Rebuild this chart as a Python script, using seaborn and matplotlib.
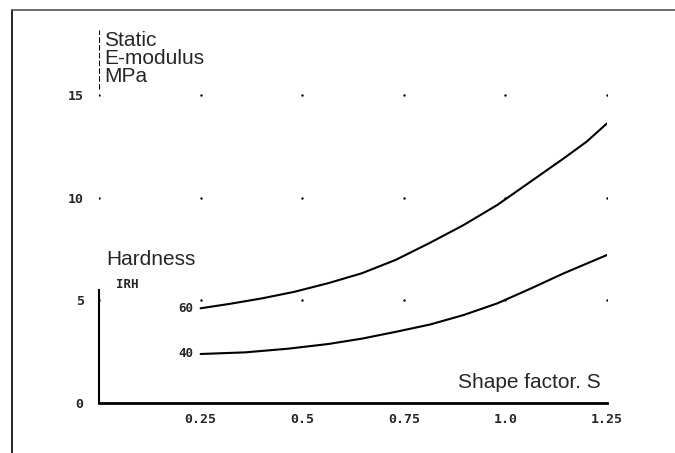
import numpy as np
import pandas as pd
import matplotlib
matplotlib.use("Agg")
import matplotlib.pyplot as plt
from matplotlib.lines import Line2D
import seaborn as sns

# shape factor S vs static E-modulus (MPa)
s_60 = [0.25, 0.32, 0.40, 0.48, 0.565, 0.647, 0.73, 0.813, 0.897, 0.98,
        1.062, 1.144, 1.20, 1.25]
e_60 = [4.62, 4.83, 5.1, 5.42, 5.85, 6.33, 6.98, 7.8, 8.68, 9.66,
        10.8, 11.94, 12.75, 13.64]
s_40 = [0.25, 0.36, 0.466, 0.565, 0.647, 0.73, 0.815, 0.897, 0.98,
        1.062, 1.144, 1.25]
e_40 = [2.39, 2.47, 2.65, 2.88, 3.14, 3.47, 3.83, 4.29, 4.86,
        5.58, 6.33, 7.22]
hardness = ["60", "40"]

x_ticks = [0.25, 0.5, 0.75, 1.0, 1.25]
x_labels = ["0.25", "0.5", "0.75", "1.0", "1.25"]
y_ticks = [0, 5, 10, 15]
y_labels = ["0", "5", "10", "15"]
grid_x = [0, 0.25, 0.5, 0.75, 1.0, 1.25]
grid_y = [5, 10, 15]

df = pd.concat([
    pd.DataFrame({"S": s_60, "E": e_60, "IRH": hardness[0]}),
    pd.DataFrame({"S": s_40, "E": e_40, "IRH": hardness[1]}),
])

sns.set_style("white")
plt.rcParams["font.family"] = ["Liberation Sans", "DejaVu Sans"]

fig = plt.figure(figsize=(6.75, 4.53), dpi=100)
ax = fig.add_axes([0.1467, 0.1104, 0.8993 - 0.1467, 0.9476 - 0.1104])

sns.lineplot(data=df, x="S", y="E", hue="IRH", palette=["black", "black"],
             linewidth=1.5, legend=False, ax=ax, sort=True)

# dotted grid marks
gx, gy = np.meshgrid(grid_x, grid_y)
ax.scatter(gx.ravel(), gy.ravel(), s=3, color="black", linewidths=0, zorder=3)

ax.set_xlim(0, 1.25)
ax.set_ylim(0, 18.5)
ax.set_xticks(x_ticks)
ax.set_xticklabels(x_labels)
ax.set_yticks(y_ticks)
ax.set_yticklabels(y_labels)
tick_font = dict(family="DejaVu Sans Mono", weight="bold", size=9.5)
for lab in ax.get_xticklabels() + ax.get_yticklabels():
    lab.set_fontproperties(tick_font)
ax.tick_params(axis="x", length=0, pad=7)
ax.tick_params(axis="y", length=2, width=1, pad=9, direction="out")
ax.set_xlabel("")
ax.set_ylabel("")

for side in ["top", "right"]:
    ax.spines[side].set_visible(False)
ax.spines["left"].set_bounds(0, 5.5)
ax.spines["left"].set_linewidth(1.5)
ax.spines["bottom"].set_linewidth(2)
ax.spines["left"].set_color("black")
ax.spines["bottom"].set_color("black")
ax.axvline(0, ymin=15.3 / 18.5, ymax=18.2 / 18.5, color="black", lw=0.8,
           ls=(0, (5, 2)))

# labels
ax.text(0.012, 18.15, "Static\nE-modulus\nMPa", fontsize=15, va="top",
        ha="left", linespacing=0.95)
ax.text(0.017, 7.0, "Hardness", fontsize=15, va="center", ha="left")
ax.text(0.042, 5.8, "IRH", fontsize=9, weight="bold", va="center",
        ha="left", family="DejaVu Sans Mono")
ax.text(0.232, e_60[0], hardness[0], fontsize=9, weight="bold", va="center",
        ha="right", family="DejaVu Sans Mono")
ax.text(0.232, e_40[0], hardness[1], fontsize=9, weight="bold", va="center",
        ha="right", family="DejaVu Sans Mono")
ax.text(1.234, 0.98, "Shape factor. S", fontsize=15, va="center", ha="right")

# page frame (left and top edges)
fig.add_artist(Line2D([12 / 675, 12 / 675], [0, 1 - 10 / 453],
                      transform=fig.transFigure, color="black", lw=1.2))
fig.add_artist(Line2D([12 / 675, 1], [1 - 10 / 453, 1 - 10 / 453],
                      transform=fig.transFigure, color="#555555", lw=1.2))

fig.savefig("out.png", dpi=100)
